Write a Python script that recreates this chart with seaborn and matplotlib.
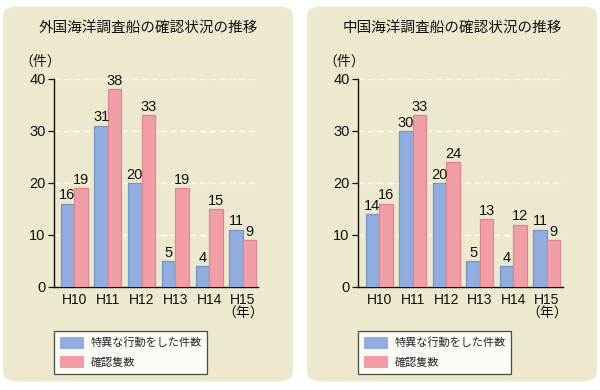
import matplotlib
matplotlib.use("Agg")
import matplotlib.pyplot as plt
from matplotlib.patches import FancyBboxPatch
import seaborn as sns
import pandas as pd

categories = ["H10", "H11", "H12", "H13", "H14", "H15"]
tick_labels = ["H10", "H11", "H12", "H13", "H14", "H15\n（年）"]
series_names = ["特異な行動をした件数", "確認隻数"]
foreign_special = [16, 31, 20, 5, 4, 11]
foreign_confirmed = [19, 38, 33, 19, 15, 9]
china_special = [14, 30, 20, 5, 4, 11]
china_confirmed = [16, 33, 24, 13, 12, 9]
titles = ["外国海洋調査船の確認状況の推移", "中国海洋調査船の確認状況の推移"]

sns.set_theme(style="white")
plt.rcParams["font.family"] = ["Liberation Sans", "Noto Sans CJK JP"]

BLUE = "#92aee0"
PINK = "#f29ea7"
BLUE_EDGE = "#7794c6"
PINK_EDGE = "#dc8790"
PANEL = "#ede9cf"

fig = plt.figure(figsize=(6, 3.9), dpi=100)
W, H = 600.0, 390.0

def fx(px):
    return px / W

def fy(py):
    return 1 - py / H

panels = [(3, 293), (307, 597)]
for (x0, x1) in panels:
    p = FancyBboxPatch((fx(x0) + 0.017, fy(385) + 0.026),
                       fx(x1 - x0) - 0.034, (fy(3) - fy(385)) - 0.052,
                       boxstyle="round,pad=0.017,rounding_size=0.025",
                       transform=fig.transFigure, facecolor=PANEL,
                       edgecolor="none", zorder=-5)
    fig.patches.append(p)

axes_px = [(54, 258, -0.6, 5.45), (358, 563, -0.63, 5.48)]
datasets = [(foreign_special, foreign_confirmed), (china_special, china_confirmed)]

for i, ((ax0, ax1, xl, xr), (s1, s2)) in enumerate(zip(axes_px, datasets)):
    ax = fig.add_axes([fx(ax0), fy(287), fx(ax1 - ax0), fy(79) - fy(287)])
    ax.set_zorder(2)
    ax.patch.set_visible(False)
    df = pd.DataFrame({
        "year": categories * 2,
        "count": list(s1) + list(s2),
        "series": [series_names[0]] * len(categories) + [series_names[1]] * len(categories),
    })
    sns.barplot(data=df, x="year", y="count", hue="series",
                palette=[BLUE, PINK], saturation=1, width=0.8, ax=ax,
                zorder=3)
    for cont, ec in zip(ax.containers, [BLUE_EDGE, PINK_EDGE]):
        for bar in cont:
            bar.set_edgecolor(ec)
            bar.set_linewidth(0.9)
        ax.bar_label(cont, padding=1, fontsize=10.5, color="#111111")
    for v in [10, 20, 30, 40]:
        ax.axhline(v, color="white", lw=1.0, ls=(0, (4, 3)), zorder=1)
    ax.set_ylim(0, 40)
    ax.set_xlim(xl, xr)
    ax.set_yticks([0, 10, 20, 30, 40])
    ax.set_xticks(range(len(categories)))
    ax.set_xticklabels(tick_labels, linespacing=1.0)
    ax.tick_params(axis="y", left=True, length=4, width=0.9, pad=2,
                   labelsize=10.5, colors="#111111")
    ax.tick_params(axis="x", bottom=False, length=0, pad=4, labelsize=10,
                   colors="#111111")
    ax.set_xlabel("")
    ax.set_ylabel("")
    for s in ["top", "right"]:
        ax.spines[s].set_visible(False)
    for s in ["left", "bottom"]:
        ax.spines[s].set_color("#111111")
        ax.spines[s].set_linewidth(1.0)
    handles, labels = ax.get_legend_handles_labels()
    ax.get_legend().remove()
    leg = fig.legend(handles, labels, loc="upper left",
                     bbox_to_anchor=(fx(ax0), fy(331)),
                     bbox_transform=fig.transFigure, borderaxespad=0,
                     fancybox=False, frameon=True, fontsize=8,
                     handlelength=2.2, handleheight=1.3, handletextpad=0.6,
                     labelspacing=0.65, borderpad=0.5)
    leg.set_zorder(5)
    leg.get_frame().set_edgecolor("#222222")
    leg.get_frame().set_linewidth(0.9)
    leg.get_frame().set_facecolor("white")
    for h in leg.legend_handles:
        h.set_edgecolor("none")
    px_center = (panels[i][0] + panels[i][1]) / 2
    fig.text(fx(px_center), fy(28), titles[i], ha="center", va="center",
             fontsize=10.5, color="#111111")
    fig.text(fx(ax0 - 14), fy(62), "（件）", ha="center", va="center",
             fontsize=10, color="#111111")

fig.savefig("out.png", dpi=100)
